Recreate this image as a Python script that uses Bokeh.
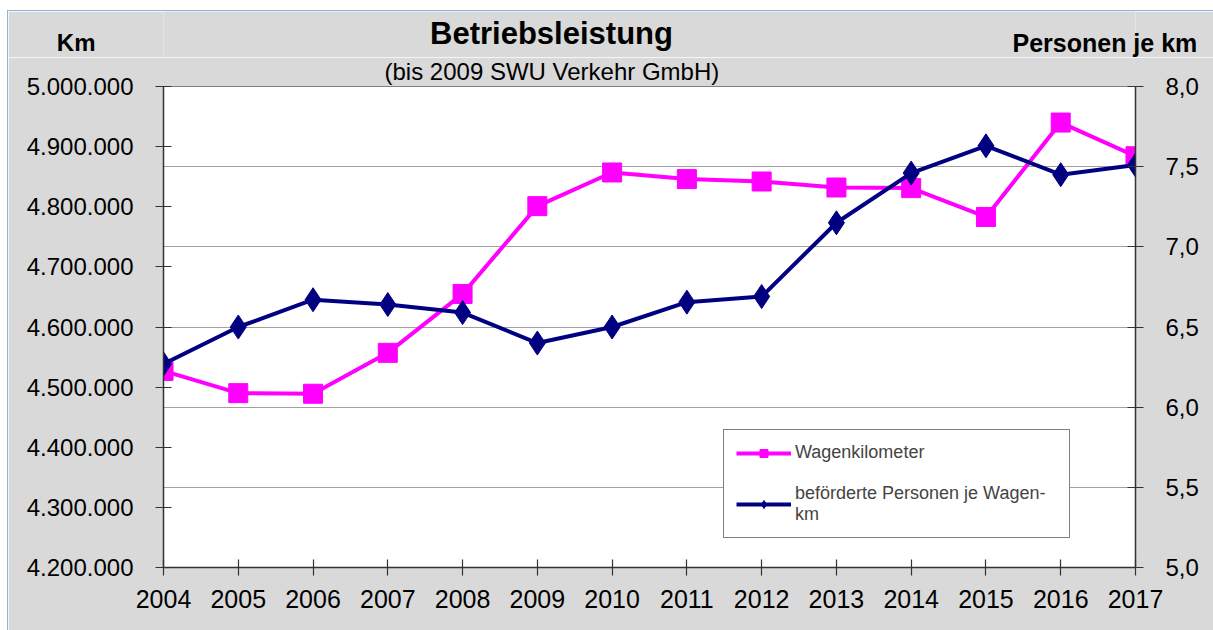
from bokeh.plotting import figure
from bokeh.models import (Range1d, LinearAxis, FixedTicker, CustomJSTickFormatter,
                          Legend, LegendItem, Grid, Spacer)
from bokeh.layouts import column, row
from bokeh.core.properties import value
from bokeh.embed import file_html
from bokeh.resources import INLINE

years = list(range(2004, 2018))
wagenkilometer = [4527000, 4490000, 4489000, 4557000, 4655000, 4801000, 4857000,
                  4846000, 4842000, 4832000, 4831000, 4783000, 4940000, 4884000]
personen_je_km = [6.27, 6.50, 6.67, 6.64, 6.59, 6.40, 6.50,
                  6.655, 6.69, 7.15, 7.46, 7.63, 7.45, 7.51]
left_ticks = [4200000, 4300000, 4400000, 4500000, 4600000, 4700000, 4800000, 4900000, 5000000]
right_ticks = [5.0, 5.5, 6.0, 6.5, 7.0, 7.5, 8.0]

title_text = "Betriebsleistung"
subtitle_text = "(bis 2009 SWU Verkehr GmbH)"
left_title = "Km"
right_title = "Personen je km"
series_labels = ["Wagenkilometer", "beförderte Personen je Wagen-\nkm"]

FONT = "Liberation Sans"
GREY_BG = "#D9D9D9"
BLUE = "#8DB3E2"

# ---------- header (its frame is aligned with the chart frame: page x 163..1135) ----------
hdr = figure(width=1205, height=46, output_backend="svg", toolbar_location=None,
             x_range=Range1d(163, 1135), y_range=Range1d(57, 11),
             x_axis_location=None, y_axis_location="left",
             min_border_left=155, min_border_right=78, min_border_top=0, min_border_bottom=0)
hdr.background_fill_color = GREY_BG
hdr.border_fill_color = GREY_BG
hdr.outline_line_color = None
hdr.xgrid.grid_line_color = None
hdr.ygrid.grid_line_color = None

hdr.text(x=[551], y=[33], text=[title_text], text_align="center", text_baseline="middle",
         text_font=value(FONT), text_font_style="bold", text_font_size="31px", text_color="black")

hl = hdr.yaxis[0]
hl.ticker = FixedTicker(ticks=[45])
hl.formatter = CustomJSTickFormatter(code="return %r;" % left_title)
hr = LinearAxis(ticker=FixedTicker(ticks=[42]),
                formatter=CustomJSTickFormatter(code="return %r;" % right_title))
hdr.add_layout(hr, "right")
hl.major_label_standoff = 68
hr.major_label_standoff = -123
hl.major_label_text_font_size = "24px"
hr.major_label_text_font_size = "25px"
for ax in [hl, hr]:
    ax.axis_line_color = None
    ax.major_tick_line_color = None
    ax.minor_tick_line_color = None
    ax.major_tick_in = 0
    ax.major_tick_out = 0
    ax.major_label_text_font = FONT
    ax.major_label_text_font_style = "bold"
    ax.major_label_text_color = "black"

# ---------- main chart ----------
p = figure(width=1205, height=573, output_backend="svg", toolbar_location=None,
           x_range=Range1d(2004, 2017), y_range=Range1d(4200000, 5000000),
           min_border_left=155, min_border_right=78, min_border_top=28, min_border_bottom=63)
p.border_fill_color = GREY_BG
p.background_fill_color = "white"
p.outline_line_color = "#808080"
p.outline_line_width = 1

p.title.text = subtitle_text
p.title.align = "left"
p.title.offset = 221
p.title.standoff = 0
p.title.vertical_align = "top"
p.title.text_font = FONT
p.title.text_font_style = "normal"
p.title.text_font_size = "24px"
p.title.text_color = "black"

p.extra_y_ranges = {"right": Range1d(5.0, 8.0)}

xa = p.xaxis[0]
xa.ticker = FixedTicker(ticks=years)
xa.formatter = CustomJSTickFormatter(code="return tick.toFixed(0);")

ya = p.yaxis[0]
ya.ticker = FixedTicker(ticks=left_ticks)
ya.formatter = CustomJSTickFormatter(
    code='return tick.toFixed(0).replace(/\\B(?=(\\d{3})+(?!\\d))/g, ".");')

ra = LinearAxis(y_range_name="right", ticker=FixedTicker(ticks=right_ticks),
                formatter=CustomJSTickFormatter(code='return tick.toFixed(1).replace(".", ",");'))
p.add_layout(ra, "right")

for ax in [xa, ya, ra]:
    ax.axis_line_color = "#333333"
    ax.axis_line_width = 1.5
    ax.major_tick_line_color = "#333333"
    ax.major_tick_line_width = 1.2
    ax.major_tick_in = 8
    ax.major_tick_out = 8
    ax.minor_tick_line_color = None
    ax.major_label_text_font = FONT
    ax.major_label_text_color = "black"
xa.major_label_text_font_size = "25px"
xa.major_label_standoff = 14
ya.major_label_text_font_size = "24px"
ya.major_label_standoff = 22
ra.major_label_text_font_size = "24px"
ra.major_label_standoff = 22

p.xgrid.grid_line_color = None
p.ygrid.grid_line_color = None
g = Grid(dimension=1, y_range_name="right", ticker=FixedTicker(ticks=right_ticks),
         grid_line_color="#A0A0A0", grid_line_width=1)
p.add_layout(g)

l1 = p.line(years, wagenkilometer, line_color="#FF00FF", line_width=4)
s1 = p.scatter(years, wagenkilometer, marker="square", size=19,
               fill_color="#FF00FF", line_color="#FF00FF")
l2 = p.line(years, personen_je_km, y_range_name="right", line_color="#000080", line_width=4)
s2 = p.scatter(years, personen_je_km, y_range_name="right", marker="diamond", size=24,
               fill_color="#000080", line_color="#000080")

legend = Legend(items=[LegendItem(label=series_labels[0], renderers=[l1, s1]),
                       LegendItem(label=series_labels[1], renderers=[l2, s2])],
                location=(560, 29), orientation="vertical")
legend.border_line_color = "black"
legend.border_line_width = 1
legend.background_fill_color = "white"
legend.background_fill_alpha = 1
legend.label_text_font = FONT
legend.label_text_font_size = "18px"
legend.glyph_width = 55
legend.glyph_height = 20
legend.label_width = 262
legend.label_standoff = 4
legend.padding = 12
legend.spacing = 20
legend.margin = 0
p.add_layout(legend, "center")

layout = column(
    Spacer(width=1213, height=10),
    row(Spacer(width=7, height=620),
        column(Spacer(width=1206, height=1, styles={"background-color": BLUE}),
               row(Spacer(width=1, height=619, styles={"background-color": BLUE}),
                   column(hdr, p)))))

open("out.html", "w").write(file_html(layout, INLINE))
